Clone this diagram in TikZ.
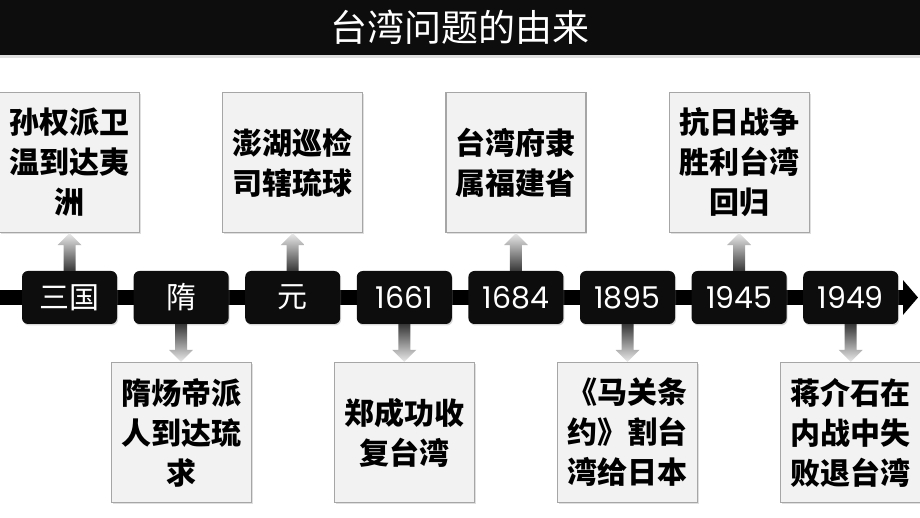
\documentclass[tikz,border=0pt]{standalone}
\usepackage{fontspec}
\usepackage[dvipsnames]{xcolor}
\newfontfamily\cjk{Noto Sans CJK SC}
\newfontfamily\numfont{Poppins}
\usetikzlibrary{positioning,shadows,calc,arrows.meta}

\definecolor{barblack}{HTML}{0D0D0D}
\definecolor{boxgray}{HTML}{F2F2F2}
\definecolor{edgegray}{HTML}{A6A6A6}

% gradient arrow from a year node up to its event box
\newcommand{\arrup}[2]{%
  \shade[top color=black!8, bottom color=black!78]
    ($(#1.north)+(-6,0)$) -- ($(#2.south)+(-6,-12)$) -- ($(#2.south)+(-12,-12)$)
    -- (#2.south) -- ($(#2.south)+(12,-12)$) -- ($(#2.south)+(6,-12)$)
    -- ($(#1.north)+(6,0)$) -- cycle;}
% gradient arrow from a year node down to its event box
\newcommand{\arrdown}[2]{%
  \shade[top color=black!78, bottom color=black!8]
    ($(#1.south)+(-6,0)$) -- ($(#2.north)+(-6,12)$) -- ($(#2.north)+(-12,12)$)
    -- (#2.north) -- ($(#2.north)+(12,12)$) -- ($(#2.north)+(6,12)$)
    -- ($(#1.south)+(6,0)$) -- cycle;}

\begin{document}
\begin{tikzpicture}[x=1pt,y=1pt,node distance=111.6pt,
  year node/.style={rectangle,rounded corners=6pt,fill=barblack,text=white,minimum width=95pt,minimum height=53pt,inner sep=0pt,font=\fontsize{30pt}{36pt}\selectfont,drop shadow={opacity=0.3,shadow xshift=1pt,shadow yshift=-1.5pt}},
  event node/.style={rectangle,draw=edgegray,line width=1.2pt,fill=boxgray,minimum width=140pt,minimum height=140pt,text width=120pt,align=center,inner sep=0pt,font=\cjk\bfseries\fontsize{30pt}{40pt}\selectfont,drop shadow={opacity=0.25,shadow xshift=1.5pt,shadow yshift=-1.5pt}}]

\useasboundingbox (0,0) rectangle (920,518);

% title bar
\node[fill=barblack,text=white,minimum width=920pt,minimum height=55pt,inner sep=0pt,anchor=north west,font=\cjk\fontsize{37pt}{40pt}\selectfont,drop shadow={opacity=0.25,shadow xshift=0pt,shadow yshift=-2.5pt}] (title) at (0,518) {台湾问题的由来};

% time line
\coordinate (start) at (0,220.5);
\coordinate (end) at (918,220.5);
\draw[line width=15pt,-{Triangle[length=15pt,width=34pt]}] (start) -- (end);

\node[year node] (1) at (69.5,220.5) {\cjk 三国};
\node[year node] (2) [right of = 1] {\cjk 隋};
\node[year node] (3) [right of = 2] {\cjk 元};
\node[year node] (4) [right of = 3] {\numfont 1661};
\node[year node] (5) [right of = 4] {\numfont 1684};
\node[year node] (6) [right of = 5] {\numfont 1895};
\node[year node] (7) [right of = 6] {\numfont 1945};
\node[year node] (8) [right of = 7] {\numfont 1949};

% events
\node[event node] (a1) [above of = 1, node distance=135pt] {孙权派卫\\温到达夷\\洲};
\node[event node] (b2) [below of = 2, node distance=135pt] {隋炀帝派\\人到达琉\\求};
\node[event node] (a3) [above of = 3, node distance=135pt] {澎湖巡检\\司辖琉球};
\node[event node] (b4) [below of = 4, node distance=135pt] {郑成功收\\复台湾};
\node[event node] (a5) [above of = 5, node distance=135pt] {台湾府隶\\属福建省};
\node[event node] (b6) [below of = 6, node distance=135pt] {《马关条\\约》割台\\湾给日本};
\node[event node] (a7) [above of = 7, node distance=135pt] {抗日战争\\胜利台湾\\回归};
\node[event node] (b8) [below of = 8, node distance=135pt] {蒋介石在\\内战中失\\败退台湾};

\arrup{1}{a1}
\arrdown{2}{b2}
\arrup{3}{a3}
\arrdown{4}{b4}
\arrup{5}{a5}
\arrdown{6}{b6}
\arrup{7}{a7}
\arrdown{8}{b8}

\end{tikzpicture}
\end{document}
